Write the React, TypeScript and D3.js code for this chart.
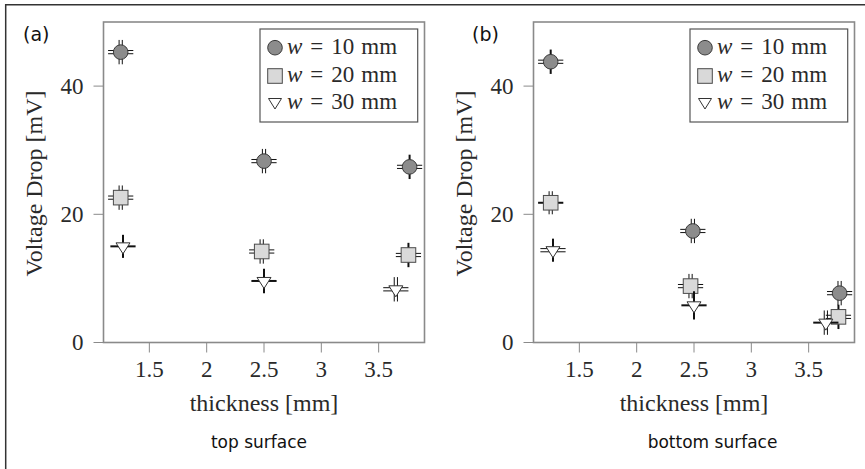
import React from "react";
import * as d3 from "d3";

// ---- data ----
const seriesW = ["10", "20", "30"];
const xTicks = [1.5, 2, 2.5, 3, 3.5];
const yTicks = [0, 20, 40];
const panelTags = ["(a)", "(b)"];
const panelCaptions = ["top surface", "bottom surface"];

// panel (a) top surface
const xA10 = [1.25, 2.5, 3.77];
const yA10 = [45.3, 28.3, 27.4];
const xA20 = [1.25, 2.48, 3.76];
const yA20 = [22.6, 14.2, 13.65];
const xA30 = [1.27, 2.5, 3.65];
const yA30 = [15.0, 9.6, 8.3];
// panel (b) bottom surface
const xB10 = [1.25, 2.49, 3.77];
const yB10 = [43.8, 17.4, 7.7];
const xB20 = [1.25, 2.47, 3.76];
const yB20 = [21.8, 8.8, 4.0];
const xB30 = [1.27, 2.5, 3.65];
const yB30 = [14.4, 5.8, 3.1];

// error half-widths
const yErrA = [[1.9, 1.9, 1.9], [1.9, 1.9, 1.9], [1.8, 1.9, 1.9]];
const yErrB = [[1.9, 1.9, 1.9], [1.8, 1.9, 1.9], [1.8, 2.2, 1.9]];
const xErr = 0.11;
// error-bar line style: d = double thin, s = single thick  [vertical, horizontal]
const styleA = [["dd", "dd", "sd"], ["dd", "dd", "sd"], ["ss", "ss", "dd"]];
const styleB = [["sd", "dd", "dd"], ["ds", "dd", "sd"], ["sd", "ss", "ds"]];

const panels = [
  { xs: [xA10, xA20, xA30], ys: [yA10, yA20, yA30], yErr: yErrA, style: styleA },
  { xs: [xB10, xB20, xB30], ys: [yB10, yB20, yB30], yErr: yErrB, style: styleB },
];

const W = 865;
const H = 469;
const serif = "'Liberation Serif', 'Times New Roman', serif";
const sans = "'DejaVu Sans', Verdana, sans-serif";
const textColor = "#2a2a2a";

function Marker({ kind, cx, cy }: { kind: number; cx: number; cy: number }) {
  if (kind === 0)
    return <circle cx={cx} cy={cy} r={7.3} fill="#8c8c8c" stroke="#3a3a3a" strokeWidth={1} />;
  if (kind === 1)
    return <rect x={cx - 7.3} y={cy - 7.3} width={14.6} height={14.6} fill="#d9d9d9" stroke="#4a4a4a" strokeWidth={1} />;
  return (
    <path
      d={`M${cx - 7},${cy - 3.5}L${cx + 7},${cy - 3.5}L${cx},${cy + 7.5}Z`}
      fill="#ffffff"
      stroke="#333"
      strokeWidth={1}
    />
  );
}

function ErrLines({ x1, y1, x2, y2, vertical, dbl }: any) {
  if (!dbl) return <line x1={x1} y1={y1} x2={x2} y2={y2} stroke="#111" strokeWidth={2} />;
  const o = 1.6;
  return vertical ? (
    <g stroke="#111" strokeWidth={1}>
      <line x1={x1 - o} y1={y1} x2={x2 - o} y2={y2} />
      <line x1={x1 + o} y1={y1} x2={x2 + o} y2={y2} />
    </g>
  ) : (
    <g stroke="#111" strokeWidth={1}>
      <line x1={x1} y1={y1 - o} x2={x2} y2={y2 - o} />
      <line x1={x1} y1={y1 + o} x2={x2} y2={y2 + o} />
    </g>
  );
}

function Panel({ idx, ox }: { idx: number; ox: number }) {
  const p = panels[idx];
  const left = ox + 103.5;
  const right = ox + 424.5;
  const top = 22;
  const bottom = 342.5;
  const x = d3.scaleLinear().domain([1.1, 3.9]).range([left, right]);
  const y = d3.scaleLinear().domain([0, 50]).range([bottom, top]);
  const axisColor = "#8a8a8a";
  const lx = ox + 260;
  const ly = 29;
  return (
    <g>
      {/* ticks */}
      {xTicks.map((t) => (
        <g key={"xt" + t}>
          <line x1={x(t)} x2={x(t)} y1={bottom} y2={bottom + 10} stroke={axisColor} strokeWidth={1} />
          <text x={x(t)} y={376.5} textAnchor="middle" fontFamily={serif} fontSize={23} fill={textColor}>
            {String(t)}
          </text>
        </g>
      ))}
      {yTicks.map((t) => (
        <g key={"yt" + t}>
          <line x1={left - 10} x2={left} y1={y(t)} y2={y(t)} stroke={axisColor} strokeWidth={1} />
          <text x={ox + 83.5} y={y(t) + 7.5} textAnchor="end" fontFamily={serif} fontSize={23} fill={textColor}>
            {String(t)}
          </text>
        </g>
      ))}
      {/* points */}
      {p.xs.map((xs, s) =>
        xs.map((xv, i) => {
          const yv = p.ys[s][i];
          const st = p.style[s][i];
          const cx = x(xv);
          const cy = y(yv);
          const e = p.yErr[s][i];
          return (
            <g key={`p${s}-${i}`}>
              <ErrLines x1={cx} x2={cx} y1={y(yv - e)} y2={y(yv + e)} vertical dbl={st[0] === "d"} />
              <ErrLines x1={x(xv - xErr)} x2={x(xv + xErr)} y1={cy} y2={cy} vertical={false} dbl={st[1] === "d"} />
              <Marker kind={s} cx={cx} cy={cy} />
            </g>
          );
        })
      )}
      {/* frame */}
      <rect x={left} y={top} width={right - left} height={bottom - top} fill="none" stroke={axisColor} strokeWidth={1.6} />
      {/* legend */}
      <rect x={lx} y={ly} width={157.7} height={93} fill="#fff" stroke="#555" strokeWidth={1.2} />
      {seriesW.map((wv, s) => {
        const my = [47.7, 76, 103][s];
        const by = [54, 82, 109][s];
        return (
          <g key={"lg" + s}>
            {s === 2 ? (
              <path d={`M${lx + 8.5},${my - 4.5}L${lx + 21.5},${my - 4.5}L${lx + 15},${my + 6}Z`} fill="#fff" stroke="#333" strokeWidth={1} />
            ) : (
              <Marker kind={s} cx={lx + 15} cy={my} />
            )}
            <text x={lx + 27} y={by} fontFamily={serif} fontSize={23} fill={textColor}>
              <tspan fontStyle="italic">w</tspan>
              <tspan dx={8}>=</tspan>
              <tspan dx={8}>{wv}</tspan>
              <tspan dx={7}>mm</tspan>
            </text>
          </g>
        );
      })}
      {/* axis labels */}
      <text x={ox + 264} y={410.5} textAnchor="middle" fontFamily={serif} fontSize={24} fill={textColor}>
        thickness [mm]
      </text>
      <text
        transform={`translate(${ox + 42},${183.5}) rotate(-90)`}
        textAnchor="middle"
        fontFamily={serif}
        fontSize={24}
        fill={textColor}
      >
        Voltage Drop [mV]
      </text>
      <text x={idx === 0 ? 23 : 472} y={41} fontFamily={sans} fontSize={19} fill="#111">
        {panelTags[idx]}
      </text>
      <text x={idx === 0 ? 259 : 712.5} y={448} textAnchor="middle" fontFamily={sans} fontSize={17} fill="#111">
        {panelCaptions[idx]}
      </text>
    </g>
  );
}

export default function App() {
  return (
    <svg width={W} height={H} style={{ position: "absolute", left: 0, top: 0, background: "#fff" }}>
      <rect x={0} y={0} width={W} height={H} fill="#fff" />
      <line x1={5} x2={W} y1={4.7} y2={4.7} stroke="#333" strokeWidth={1.5} />
      <line x1={5.7} x2={5.7} y1={4} y2={H} stroke="#333" strokeWidth={1.5} />
      <Panel idx={0} ox={0} />
      <Panel idx={1} ox={430} />
    </svg>
  );
}
